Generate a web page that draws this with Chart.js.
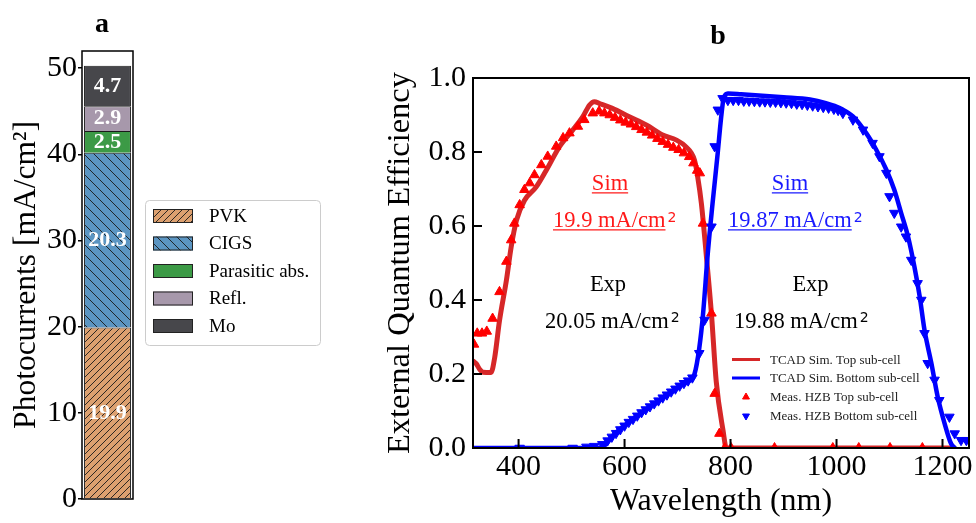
<!DOCTYPE html>
<html>
<head>
<meta charset="utf-8">
<script src="https://cdn.jsdelivr.net/npm/chart.js@4.4.1/dist/chart.umd.min.js"></script>
<style>
html,body{margin:0;padding:0;background:#fff;}
body{width:976px;height:523px;position:relative;overflow:hidden;}
#ca{position:absolute;left:0;top:0;}
#cb{position:absolute;left:340px;top:0;}
</style>
</head>
<body>
<canvas id="ca" width="340" height="523"></canvas>
<canvas id="cb" width="636" height="523"></canvas>
<script>
// ---------- Panel a data ----------
const barCategories = ['Photocurrents'];
const barSeriesNames = ['PVK', 'CIGS', 'Parasitic abs.', 'Refl.', 'Mo'];
const pvkCurrent = [19.9];
const cigsCurrent = [20.3];
const parasiticCurrent = [2.5];
const reflCurrent = [2.9];
const moCurrent = [4.7];
const barTicks = [0, 10, 20, 30, 40, 50];

// ---------- Panel b data ----------
const eqeTicksX = [400, 600, 800, 1000, 1200];
const eqeTicksY = [0, 0.2, 0.4, 0.6, 0.8, 1.0];
const eqeTickLabelsY = ['0.0', '0.2', '0.4', '0.6', '0.8', '1.0'];

const simTopWl = [314, 320, 327, 333, 348, 355, 364, 377, 386, 396, 411, 433, 452, 477, 502, 521, 534, 543, 553, 577, 609, 641, 672, 698, 716, 732, 738, 745, 754, 764, 773, 786, 792, 1222];
const simTopEqe = [0.235, 0.228, 0.212, 0.205, 0.204, 0.245, 0.344, 0.453, 0.543, 0.615, 0.669, 0.705, 0.75, 0.814, 0.859, 0.895, 0.927, 0.936, 0.931, 0.918, 0.895, 0.873, 0.846, 0.832, 0.814, 0.778, 0.733, 0.661, 0.525, 0.362, 0.18, 0.046, 0, 0];

const simBottomWl = [314, 555, 579, 610, 642, 674, 705, 720, 732, 741, 748, 757, 766, 776, 782, 787, 795, 820, 860, 900, 950, 980, 1006, 1031, 1056, 1075, 1094, 1109, 1122, 1135, 1147, 1157, 1166, 1179, 1191, 1204, 1216, 1223];
const simBottomEqe = [0, 0, 0.035, 0.072, 0.105, 0.137, 0.167, 0.18, 0.2, 0.27, 0.36, 0.525, 0.66, 0.8, 0.89, 0.945, 0.958, 0.956, 0.952, 0.948, 0.942, 0.932, 0.919, 0.896, 0.851, 0.806, 0.752, 0.698, 0.635, 0.571, 0.49, 0.409, 0.319, 0.229, 0.138, 0.066, 0.012, 0];

const measTopWl = [316, 322, 331, 340, 351, 364, 377, 386, 392, 402, 411, 421, 430, 443, 455, 471, 484, 496, 512, 524, 540, 552, 562, 572, 582, 592, 602, 612, 622, 632, 642, 652, 662, 672, 682, 692, 702, 712, 722, 730, 737, 742, 748, 764, 770, 779, 789, 801, 883, 993, 1042, 1101, 1162];
const measTopEqe = [0.28, 0.31, 0.31, 0.315, 0.35, 0.422, 0.504, 0.562, 0.607, 0.657, 0.698, 0.716, 0.738, 0.765, 0.788, 0.815, 0.838, 0.851, 0.869, 0.887, 0.905, 0.91, 0.905, 0.9, 0.893, 0.886, 0.88, 0.875, 0.868, 0.86, 0.853, 0.845, 0.836, 0.828, 0.82, 0.812, 0.806, 0.797, 0.787, 0.77, 0.75, 0.743, 0.607, 0.364, 0.147, 0.039, 0, 0, 0, 0, 0, 0, 0];

const measBottomWl = [402, 502, 528, 543, 558, 568, 576, 584, 592, 600, 608, 616, 624, 632, 640, 648, 656, 664, 672, 680, 688, 696, 704, 712, 720, 728, 741, 751, 764, 770, 776, 785, 795, 805, 815, 825, 835, 845, 855, 865, 875, 885, 895, 905, 915, 925, 935, 945, 955, 965, 975, 985, 995, 1003, 1012, 1031, 1050, 1068, 1081, 1094, 1100, 1109, 1122, 1131, 1141, 1153, 1160, 1166, 1172, 1185, 1194, 1213, 1223, 1235, 1245];
const measBottomEqe = [0, 0, 0.003, 0.005, 0.01, 0.02, 0.03, 0.04, 0.05, 0.06, 0.07, 0.078, 0.087, 0.096, 0.104, 0.112, 0.12, 0.128, 0.136, 0.144, 0.152, 0.16, 0.168, 0.175, 0.182, 0.19, 0.256, 0.346, 0.598, 0.815, 0.914, 0.945, 0.94, 0.94, 0.94, 0.938, 0.938, 0.937, 0.936, 0.936, 0.935, 0.935, 0.934, 0.933, 0.932, 0.93, 0.929, 0.927, 0.925, 0.923, 0.921, 0.919, 0.916, 0.913, 0.905, 0.887, 0.86, 0.824, 0.788, 0.743, 0.68, 0.635, 0.598, 0.571, 0.508, 0.445, 0.4, 0.31, 0.229, 0.184, 0.129, 0.084, 0.039, 0.021, 0.021];

// ---------- helpers ----------
Chart.defaults.font.family = '"Liberation Serif", "Times New Roman", serif';
Chart.defaults.color = '#000';
const SERIF = '"Liberation Serif", "Times New Roman", serif';

function pts(xs, ys) { return xs.map((x, i) => ({ x: x, y: ys[i] })); }

function hatch(color, dir, s) {
  const c = document.createElement('canvas');
  c.width = s; c.height = s;
  const g = c.getContext('2d');
  g.fillStyle = color; g.fillRect(0, 0, s, s);
  g.strokeStyle = 'rgba(25,25,25,0.9)'; g.lineWidth = 1;
  g.beginPath();
  for (const o of [-s, 0, s]) {
    if (dir === '/') { g.moveTo(o, s); g.lineTo(o + s, 0); }
    else { g.moveTo(o, 0); g.lineTo(o + s, s); }
  }
  g.stroke();
  return g.createPattern(c, 'repeat');
}

const barFills = [
  hatch('#dca06f', '/', 7),
  hatch('#5b95c2', '\\', 10),
  '#3c9a46',
  '#a798ab',
  '#47474b'
];
const barValues = [pvkCurrent, cigsCurrent, parasiticCurrent, reflCurrent, moCurrent];

// ---------- Panel a plugins ----------
const frameA = {
  id: 'frameA',
  afterDatasetsDraw(chart) {
    const { ctx, chartArea: a } = chart;
    ctx.save();
    ctx.strokeStyle = '#000'; ctx.lineWidth = 1.5;
    ctx.strokeRect(a.left, a.top, a.right - a.left, a.bottom - a.top);
    ctx.restore();
  }
};
const barLabels = {
  id: 'barLabels',
  afterDatasetsDraw(chart) {
    const ctx = chart.ctx;
    ctx.save();
    ctx.font = 'bold 22px ' + SERIF;
    ctx.fillStyle = '#fff'; ctx.textAlign = 'center'; ctx.textBaseline = 'middle';
    chart.data.datasets.forEach((ds, i) => {
      chart.getDatasetMeta(i).data.forEach((el, j) => {
        ctx.fillText(ds.data[j].toFixed(1), el.x, (el.y + el.base) / 2);
      });
    });
    ctx.restore();
  }
};
const legendA = {
  id: 'legendA',
  afterDraw(chart) {
    const ctx = chart.ctx;
    ctx.save();
    ctx.strokeStyle = '#cccccc'; ctx.lineWidth = 1;
    ctx.beginPath();
    ctx.roundRect(145.5, 200.5, 175, 145, 4);
    ctx.stroke();
    const rows = [216, 243.5, 271, 298.5, 326];
    ctx.font = '19px ' + SERIF;
    ctx.textBaseline = 'middle'; ctx.textAlign = 'left';
    chart.data.datasets.forEach((ds, i) => {
      const y = rows[i];
      ctx.fillStyle = ds.backgroundColor;
      ctx.fillRect(153, y - 7, 40, 14);
      ctx.strokeStyle = '#222'; ctx.lineWidth = 1;
      ctx.strokeRect(153.5, y - 6.5, 39, 13);
      ctx.fillStyle = '#000';
      ctx.fillText(ds.label, 209, y + 1);
    });
    ctx.fillStyle = '#000';
    ctx.font = 'bold 28px ' + SERIF;
    ctx.textAlign = 'center'; ctx.textBaseline = 'alphabetic';
    ctx.fillText('a', 102, 32);
    ctx.restore();
  }
};

new Chart(document.getElementById('ca'), {
  type: 'bar',
  data: {
    labels: barCategories,
    datasets: barSeriesNames.map((n, i) => ({
      label: n,
      data: barValues[i],
      backgroundColor: barFills[i],
      borderColor: '#1a1a1a',
      borderWidth: 1,
      barPercentage: 0.92,
      categoryPercentage: 1
    }))
  },
  options: {
    responsive: false, animation: false, devicePixelRatio: 1, events: [],
    layout: { padding: { left: 0, right: 207, top: 51, bottom: 24 } },
    plugins: { legend: { display: false }, tooltip: { enabled: false } },
    scales: {
      x: { stacked: true, display: false },
      y: {
        stacked: true, min: 0, max: 52,
        afterFit(s) { s.width = 82; },
        afterBuildTicks(s) { s.ticks = barTicks.map(v => ({ value: v })); },
        ticks: { font: { family: SERIF, size: 30 }, color: '#000', padding: 1, callback: (v) => String(v) },
        grid: { drawOnChartArea: false, drawTicks: true, tickLength: 4, color: '#000', lineWidth: 1.5 },
        border: { display: false },
        title: { display: true, text: 'Photocurrents [mA/cm²]', font: { family: SERIF, size: 31.5 }, color: '#000', padding: { top: 8, bottom: 0 } }
      }
    }
  },
  plugins: [barLabels, frameA, legendA]
});

// ---------- Panel b plugins ----------
const frameB = {
  id: 'frameB',
  afterDatasetsDraw(chart) {
    const { ctx, chartArea: a, scales } = chart;
    ctx.save();
    ctx.strokeStyle = '#000'; ctx.lineWidth = 2;
    ctx.strokeRect(a.left, a.top, a.right - a.left, a.bottom - a.top);
    ctx.beginPath();
    eqeTicksX.forEach(v => {
      const px = scales.x.getPixelForValue(v);
      ctx.moveTo(px, a.bottom); ctx.lineTo(px, a.bottom - 9);
    });
    eqeTicksY.forEach(v => {
      const py = scales.y.getPixelForValue(v);
      ctx.moveTo(a.left, py); ctx.lineTo(a.left + 9, py);
    });
    ctx.stroke();
    ctx.restore();
  }
};

const annotB = {
  id: 'annotB',
  afterDraw(chart) {
    const ctx = chart.ctx;
    const items = [
      { t: 'Sim', x: 270, y: 190, align: 'center', color: '#ff1a1a', u: true },
      { t: '19.9 mA/cm', sup: '2', x: 213, y: 227, align: 'left', color: '#ff1a1a', u: true, r: 5 },
      { t: 'Exp', x: 268, y: 290.5, align: 'center', color: '#000' },
      { t: '20.05 mA/cm', sup: '2', x: 205, y: 327.5, align: 'left', color: '#000', r: 6 },
      { t: 'Sim', x: 450, y: 190, align: 'center', color: '#1a1aff', u: true },
      { t: '19.87 mA/cm', sup: '2', x: 388, y: 227, align: 'left', color: '#1a1aff', u: true, r: 5 },
      { t: 'Exp', x: 470.5, y: 290.5, align: 'center', color: '#000' },
      { t: '19.88 mA/cm', sup: '2', x: 394, y: 327.5, align: 'left', color: '#000', r: 6 }
    ];
    ctx.save();
    items.forEach(it => {
      ctx.font = '22.5px ' + SERIF;
      ctx.fillStyle = it.color; ctx.strokeStyle = it.color;
      ctx.textAlign = it.align; ctx.textBaseline = 'alphabetic';
      ctx.fillText(it.t, it.x, it.y);
      const w = ctx.measureText(it.t).width;
      const left = it.align === 'center' ? it.x - w / 2 : it.x;
      if (it.u) {
        ctx.lineWidth = 1.3;
        ctx.beginPath(); ctx.moveTo(left, it.y + 2.8); ctx.lineTo(left + w, it.y + 2.8); ctx.stroke();
      }
      if (it.sup) {
        ctx.font = '14px "DejaVu Sans", sans-serif';
        ctx.textAlign = 'left';
        ctx.fillText(it.sup, left + w + 2, it.y - it.r);
      }
    });
    // legend
    const rows = [359.5, 378, 397, 416];
    const ds = chart.data.datasets;
    ctx.font = '13px ' + SERIF;
    ctx.textAlign = 'left'; ctx.textBaseline = 'middle';
    [0, 1, 2, 3].forEach((k, i) => {
      const d = ds[k]; const y = rows[i];
      if (d.showLine) {
        ctx.strokeStyle = d.borderColor; ctx.lineWidth = 3;
        ctx.beginPath(); ctx.moveTo(392, y); ctx.lineTo(420, y); ctx.stroke();
      } else {
        ctx.fillStyle = d.pointBackgroundColor; ctx.strokeStyle = d.pointBorderColor; ctx.lineWidth = 1;
        Chart.helpers.drawPoint(ctx, { pointStyle: 'triangle', rotation: d.pointRotation || 0, radius: 4, borderWidth: 1 }, 406, y);
      }
      ctx.fillStyle = '#222';
      ctx.fillText(d.label, 430, y + 1);
    });
    ctx.fillStyle = '#000';
    ctx.font = 'bold 28px ' + SERIF;
    ctx.textAlign = 'center'; ctx.textBaseline = 'alphabetic';
    ctx.fillText('b', 378, 44);
    ctx.restore();
  }
};

new Chart(document.getElementById('cb'), {
  type: 'scatter',
  data: {
    datasets: [
      { label: 'TCAD Sim. Top sub-cell', data: pts(simTopWl, simTopEqe), showLine: true, borderColor: '#d62728', backgroundColor: '#d62728', borderWidth: 5, pointRadius: 0, cubicInterpolationMode: 'monotone', borderJoinStyle: 'round', borderCapStyle: 'round', clip: 0, order: 4 },
      { label: 'TCAD Sim. Bottom sub-cell', data: pts(simBottomWl, simBottomEqe), showLine: true, borderColor: '#0000ff', backgroundColor: '#0000ff', borderWidth: 4.5, pointRadius: 0, cubicInterpolationMode: 'monotone', borderJoinStyle: 'round', borderCapStyle: 'round', clip: 0, order: 3 },
      { label: 'Meas. HZB Top sub-cell', data: pts(measTopWl, measTopEqe), showLine: false, pointStyle: 'triangle', pointRadius: 5.5, pointBackgroundColor: '#ff0000', pointBorderColor: '#ff0000', pointBorderWidth: 1, clip: 0, order: 2 },
      { label: 'Meas. HZB Bottom sub-cell', data: pts(measBottomWl, measBottomEqe), showLine: false, pointStyle: 'triangle', pointRotation: 180, pointRadius: 5.5, pointBackgroundColor: '#0000ff', pointBorderColor: '#0000ff', pointBorderWidth: 1, clip: 0, order: 1 }
    ]
  },
  options: {
    responsive: false, animation: false, devicePixelRatio: 1, events: [],
    layout: { padding: { left: 0, right: 7, top: 78, bottom: 0 } },
    plugins: { legend: { display: false }, tooltip: { enabled: false } },
    scales: {
      x: {
        type: 'linear', min: 314, max: 1250,
        afterFit(s) { s.height = 75; },
        afterBuildTicks(s) { s.ticks = eqeTicksX.map(v => ({ value: v })); },
        ticks: { font: { family: SERIF, size: 30 }, color: '#000', padding: 1, maxRotation: 0, autoSkip: false, callback: (v) => String(v) },
        grid: { display: false, drawTicks: false },
        border: { display: false },
        title: { display: true, text: 'Wavelength (nm)', font: { family: SERIF, size: 32 }, color: '#000', padding: { top: 0, bottom: 2 } }
      },
      y: {
        min: 0, max: 1,
        afterFit(s) { s.width = 133; },
        afterBuildTicks(s) { s.ticks = eqeTicksY.map(v => ({ value: v })); },
        ticks: { font: { family: SERIF, size: 30 }, color: '#000', padding: 7, autoSkip: false, callback: (v, i) => eqeTickLabelsY[i] },
        grid: { display: false, drawTicks: false },
        border: { display: false },
        title: { display: true, text: 'External Quantum Efficiency', font: { family: SERIF, size: 32.5 }, color: '#000', padding: { top: 40.5, bottom: 0 } }
      }
    }
  },
  plugins: [frameB, annotB]
});
</script>
</body>
</html>
